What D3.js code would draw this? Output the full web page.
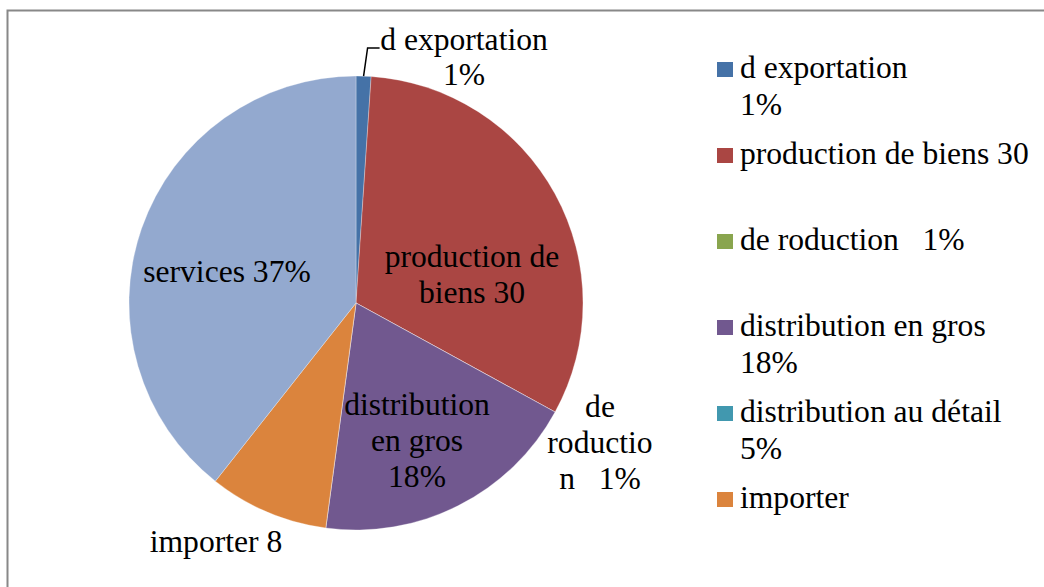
<!DOCTYPE html>
<html>
<head>
<meta charset="utf-8">
<script src="https://cdn.jsdelivr.net/npm/d3@7"></script>
<style>
	body { margin: 0; background: #fff; }
	svg { display: block; }
	text { font-family: "Liberation Serif", "Times New Roman", serif; font-size: 31.6px; fill: #000; white-space: pre; }
</style>
</head>
<body>
<svg width="1044" height="587"></svg>
<script>
// Data
var categories = ["d exportation", "production de biens", "de roduction", "distribution en gros",
	"distribution au détail", "importer", "services"];
var values = [1, 30, 0, 18, 0, 8, 37];
var sliceLabels = ["d exportation\n1%", "production de\nbiens 30", "de\nroductio\nn   1%",
	"distribution\nen gros\n18%", "", "importer 8", "services 37%"];
var legendLabels = ["d exportation\n1%", "production de biens 30", "de roduction   1%",
	"distribution en gros\n18%", "distribution au détail\n5%", "importer", "services"];

// Excel 2007 palette
var colors = ["#4572A7", "#AA4643", "#89A54E", "#71588F", "#4198AF", "#DB843D", "#93A9CF"];

// where the first line of each slice label sits, relative to pie center
var labelOffsets = [[108, -253], [116, -36], [244, 114], [61, 112], [0, 0], [-140, 249], [-129, -21]];

var svg = d3.select("svg"),
	width = +svg.attr("width"),
	height = +svg.attr("height");

var cx = 356, cy = 303, radius = 227;

// Chart frame (runs off the right and bottom edge)
svg.append("rect")
	.attr("x", 7.5)
	.attr("y", 10.5)
	.attr("width", 1200)
	.attr("height", 800)
	.attr("fill", "none")
	.attr("stroke", "#888")
	.attr("stroke-width", 2);

var color = d3.scaleOrdinal().domain(categories).range(colors);

var pie = d3.pie().sort(null).value((d) => d.value);
var arc = d3.arc().innerRadius(0).outerRadius(radius);

var data = categories.map((c, i) => ({ name: c, value: values[i], label: sliceLabels[i], legend: legendLabels[i], off: labelOffsets[i] }));
var arcs = pie(data);

var g = svg.append("g")
	.attr("transform", "translate(" + cx + "," + cy + ")");

// Slices
g.selectAll("path")
	.data(arcs)
	.enter().append("path")
	.attr("d", arc)
	.attr("fill", (d) => color(d.data.name))
	.attr("stroke", "#fff")
	.attr("stroke-opacity", 0.5)
	.attr("stroke-width", 0.6);

// Leader line for the tiny export slice
var a0 = arcs[0];
var mid = (a0.startAngle + a0.endAngle) / 2;
var px = radius * Math.sin(mid), py = -radius * Math.cos(mid);
g.append("path")
	.attr("d", d3.line()([[px, py], [px + 4, -255], [px + 16, -255]]))
	.attr("fill", "none")
	.attr("stroke", "#000")
	.attr("stroke-width", 1.5);

// Slice labels
var labels = g.selectAll("text.slice")
	.data(arcs.filter((d) => d.data.label))
	.enter().append("text")
	.attr("class", "slice")
	.attr("text-anchor", "middle")
	.attr("x", (d) => d.data.off[0])
	.attr("y", (d) => d.data.off[1]);

labels.each(function (d) {
	var t = d3.select(this);
	d.data.label.split("\n").forEach((line, j) => {
		t.append("tspan")
			.attr("x", d.data.off[0])
			.attr("dy", j == 0 ? 0 : (d.data.name == "d exportation" ? 35 : 36))
			.text(line);
	});
});

// Legend
var ly = d3.scalePoint().domain(categories).range([78, 78 + 86 * 6]);

// Excel drops entries that don't fit in the legend box
var legendData = data.filter((d) => ly(d.name) < height - 20);

var legend = svg.append("g")
	.attr("class", "legend")
	.selectAll("g")
	.data(legendData)
	.enter().append("g")
	.attr("transform", (d) => "translate(717," + ly(d.name) + ")");

legend.append("rect")
	.attr("x", 0)
	.attr("y", -16)
	.attr("width", 16)
	.attr("height", 15)
	.attr("fill", (d) => color(d.name));

legend.append("text")
	.attr("x", 23)
	.attr("y", 0)
	.each(function (d) {
		var t = d3.select(this);
		d.legend.split("\n").forEach((line, j) => {
			t.append("tspan")
				.attr("x", 23)
				.attr("dy", j == 0 ? 0 : 37)
				.text(line);
		});
	});
</script>
</body>
</html>
